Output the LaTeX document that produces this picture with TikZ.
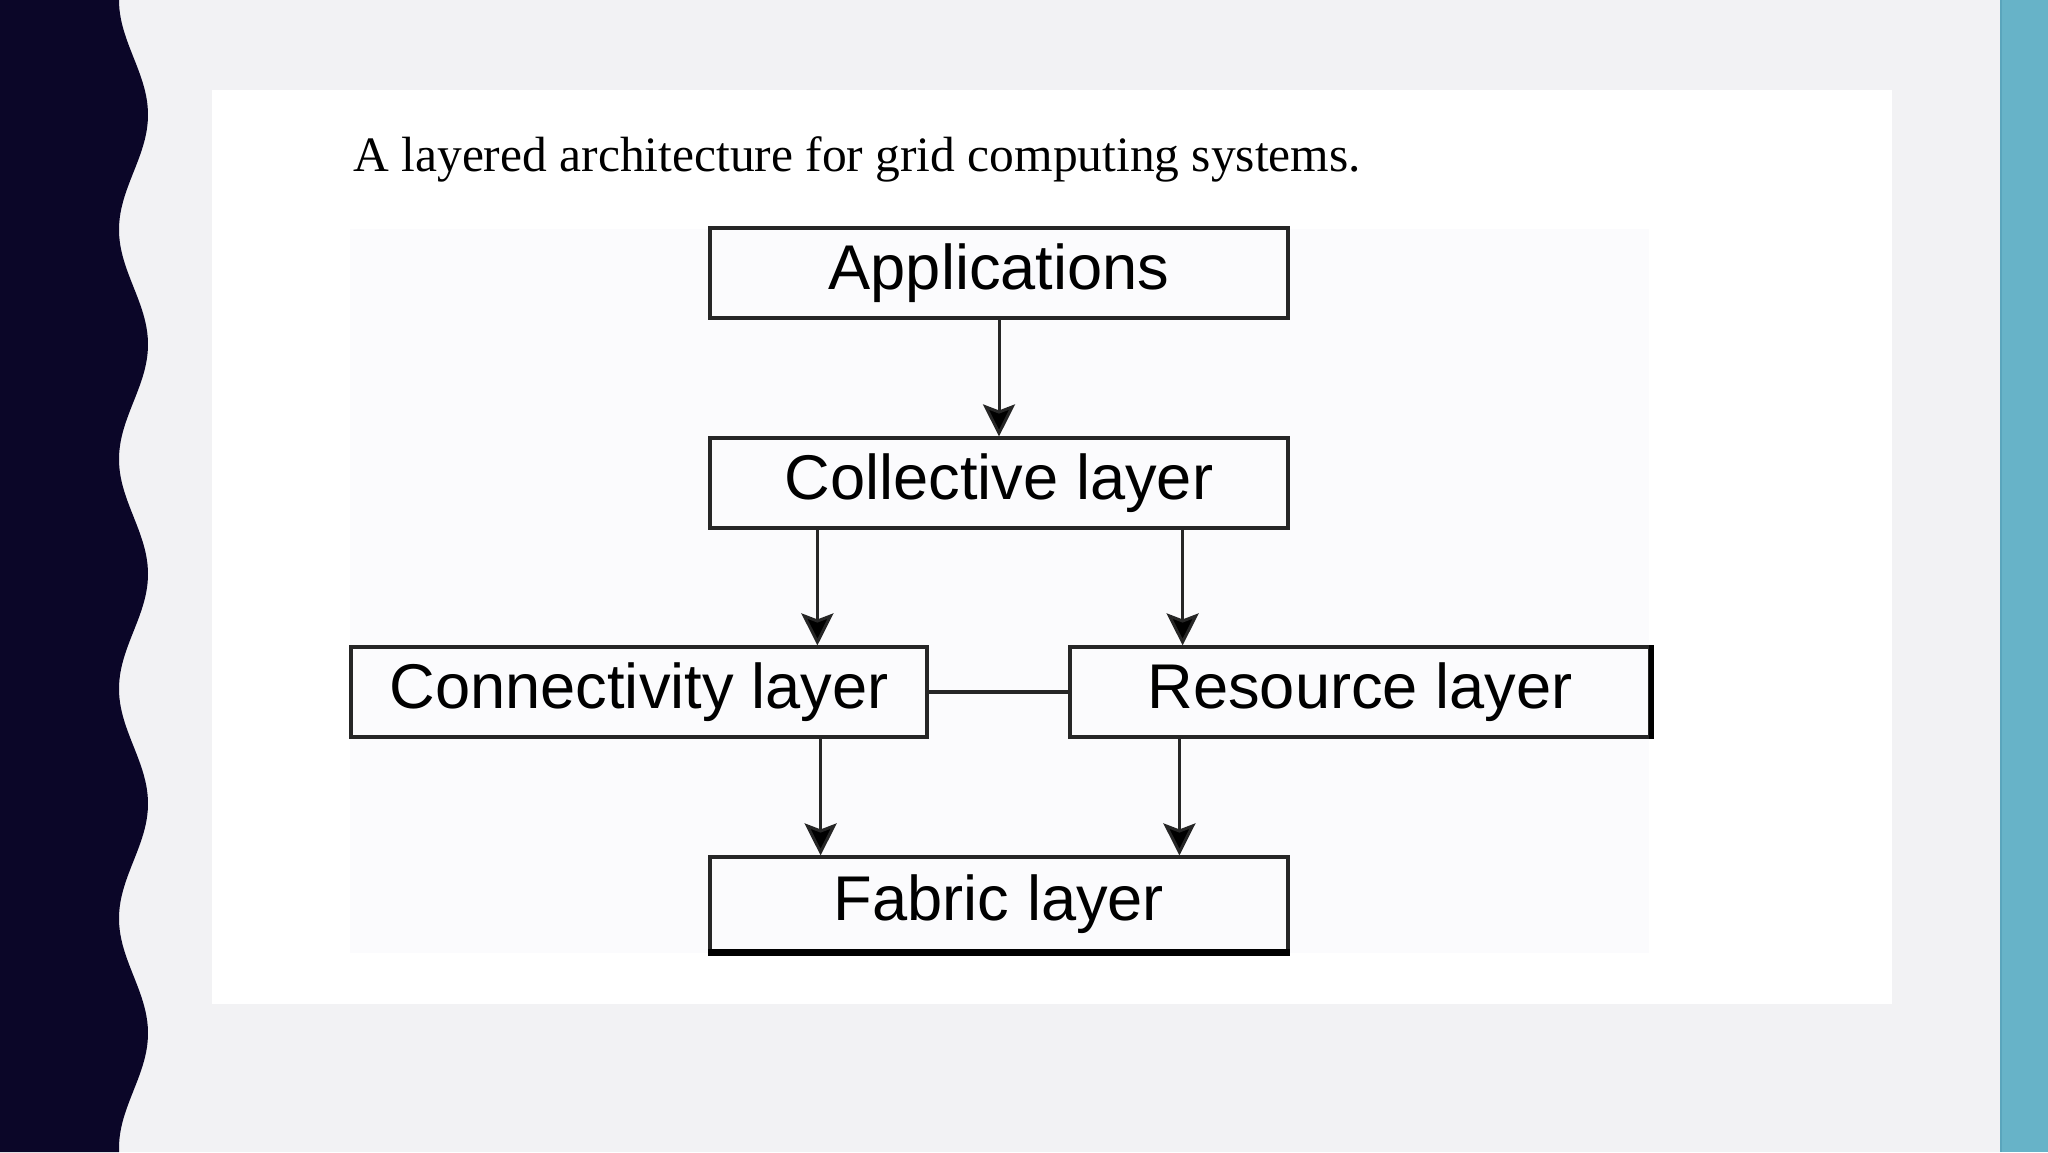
\documentclass[tikz,border=0pt]{standalone}
\usepackage{fontspec}
\setmainfont{Liberation Serif}
\newfontfamily\boxfont{Liberation Sans}
\usepackage{xcolor}
\usetikzlibrary{arrows.meta}

\definecolor{slidebg}{HTML}{F2F2F4}
\definecolor{navyband}{HTML}{0B0628}
\definecolor{tealband}{HTML}{67B3C8}
\definecolor{tealedge}{HTML}{5AA5BC}
\definecolor{figbg}{HTML}{FBFBFD}
\definecolor{inkline}{HTML}{262626}

\tikzset{
  layerbox/.style={draw=inkline, line width=1.6pt, fill=figbg, rectangle,
    minimum width=289pt, minimum height=45pt, inner sep=0pt,
    font=\boxfont\fontsize{31.6}{36}\selectfont, text=black},
  layerarrow/.style={draw=inkline, line width=1.5pt,
    -{Stealth[length=16pt, width=16pt, inset=3pt, fill=black]}},
}

\begin{document}
\begin{tikzpicture}[x=0.5pt, y=-0.5pt]
      \useasboundingbox (0,0) rectangle (2048,1152);
      % slide background
      \fill[slidebg] (0,0) rectangle (2048,1152);
      % wavy left band
      \fill[navyband] (0,0) -- plot[domain=0:1152, samples=240]
        ({133.5-14.5*cos(\x/229.6*360)}, \x) -- (0,1152) -- cycle;
      % right band
      \fill[tealband] (2000,0) rectangle (2048,1152);
      \draw[tealedge, line width=1pt] (2001,0) -- (2001,1152);
      % white panel and figure area
      \fill[white] (212,90) rectangle (1892,1004);
      \fill[figbg] (350,229) rectangle (1649,953);
      % caption
      \node[anchor=base west, inner sep=0pt, font=\fontsize{24.75}{30}\selectfont,
        text=black] (caption) at (353,171)
        {A layered architecture for grid computing systems.};
      % layers
      \node[layerbox] (apps) at (999,273) {Applications};
      \node[layerbox] (coll) at (999,483) {Collective layer};
      \node[layerbox, minimum width=288pt] (conn) at (639,692) {Connectivity layer};
      \node[layerbox, minimum width=290pt] (res) at (1360,692) {Resource layer};
      \node[layerbox, minimum height=47pt] (fabric) at (999,904) {Fabric layer};
      % heavier edges
      \draw[black, line width=2.8pt] (res.north east) -- (res.south east);
      \draw[black, line width=3.5pt] (fabric.south west) -- (fabric.south east);
      % arrows
      \draw[layerarrow] (apps.south) -- (coll.north);
      \draw[layerarrow] ([xshift=54.5pt]coll.south west) -- ([xshift=54.5pt]coll.south west |- conn.north);
      \draw[layerarrow] ([xshift=-53.5pt]coll.south east) -- ([xshift=-53.5pt]coll.south east |- res.north);
      \draw[layerarrow] ([xshift=-54pt]conn.south east) -- ([xshift=-54pt]conn.south east |- fabric.north);
      \draw[layerarrow] ([xshift=55.5pt]res.south west) -- ([xshift=55.5pt]res.south west |- fabric.north);
      % link between connectivity and resource
      \draw[inkline, line width=1.6pt] (conn.east) -- (res.west);
    \end{tikzpicture}
\end{document}
